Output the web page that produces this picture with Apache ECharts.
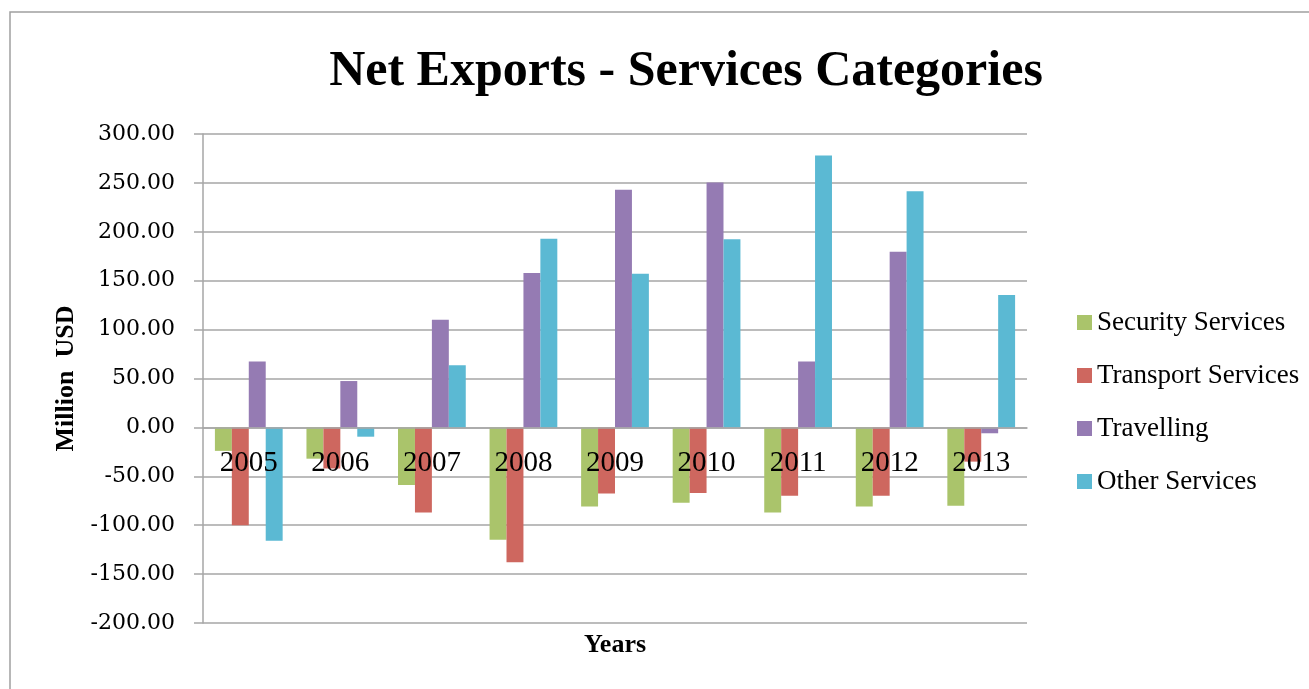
<!DOCTYPE html>
<html>
<head>
<meta charset="utf-8">
<script src="https://cdn.jsdelivr.net/npm/echarts@6/dist/echarts.min.js"></script>
<style>html,body{margin:0;padding:0;background:#fff;}#c{width:1309px;height:689px;}</style>
</head>
<body>
<div id="c"></div>
<script>
const years = ['2005','2006','2007','2008','2009','2010','2011','2012','2013'];
const securityServices = [-24, -32, -59, -115, -81, -77, -87, -81, -80];
const transportServices = [-100, -42, -87, -138, -67.5, -67, -70, -70, -35];
const travelling = [67.5, 47.4, 110, 158, 243, 250.5, 67.5, 179.5, -6];
const otherServices = [-116, -9.5, 63.5, 193, 157, 192.5, 278, 241.5, 135.5];
const seriesNames = ['Security Services','Transport Services','Travelling','Other Services'];
const colors = ['#AAC46B','#CE675F','#957BB3','#5BB9D3'];
const yMin = -200, yMax = 300;

const chart = echarts.init(document.getElementById('c'), null, {renderer:'canvas'});
const serif = 'Liberation Serif';
const gridTop = 134, gridBottom = 66, H = 689;
const plotH = H - gridTop - gridBottom;
// place category axis where the value axis crosses zero
const zeroOffset = -plotH * (0 - yMin) / (yMax - yMin);
const mk = (name, data, i) => ({
  name, type:'bar', data, barGap:'0%', barCategoryGap:'26%',
  itemStyle:{color:colors[i]}
});
chart.setOption({
  animation:false,
  backgroundColor:'#fff',
  title:{text:'Net Exports - Services Categories', left:681, top:42, textAlign:'center',
    textStyle:{fontFamily:serif, fontWeight:'bold', fontSize:50, color:'#000'}},
  legend:{orient:'vertical', left:1077, top:309, itemWidth:15, itemHeight:15, itemGap:26,
    icon:'rect', padding:0,
    textStyle:{fontFamily:serif, fontSize:27, color:'#000', lineHeight:26},
    data:seriesNames},
  grid:{left:203, right:282, top:gridTop, bottom:gridBottom},
  xAxis:{type:'category', data:years, z:10, offset:zeroOffset,
    axisLine:{onZero:false, lineStyle:{color:'#a6a6a6', width:1.5}},
    axisTick:{show:false},
    axisLabel:{fontFamily:serif, fontSize:29, color:'#000', margin:21}},
  yAxis:{type:'value', min:yMin, max:yMax, interval:50,
    name:'Million  USD', nameLocation:'middle', nameGap:124, nameRotate:90,
    nameTextStyle:{fontFamily:serif, fontWeight:'bold', fontSize:26, color:'#000'},
    axisLine:{show:true, lineStyle:{color:'#a6a6a6', width:1.5}},
    axisTick:{show:true, length:9, lineStyle:{color:'#a6a6a6', width:1.5}},
    axisLabel:{fontFamily:'DejaVu Serif', fontSize:22, color:'#000', margin:28,
      formatter:v=>v.toFixed(2)},
    splitLine:{lineStyle:{color:'#a6a6a6', width:1.5}}},
  graphic:[
    {type:'rect', shape:{x:10, y:12, width:1400, height:800}, style:{fill:null, stroke:'#a0a0a0', lineWidth:1.5}, silent:true, z:-1},
    {type:'text', x:615, y:645, style:{text:'Years', fontFamily:serif, fontWeight:'bold', fontSize:26, fill:'#000', textAlign:'center', textVerticalAlign:'middle'}}
  ],
  series:[
    mk(seriesNames[0], securityServices, 0),
    mk(seriesNames[1], transportServices, 1),
    mk(seriesNames[2], travelling, 2),
    mk(seriesNames[3], otherServices, 3)
  ]
});
</script>
</body>
</html>
